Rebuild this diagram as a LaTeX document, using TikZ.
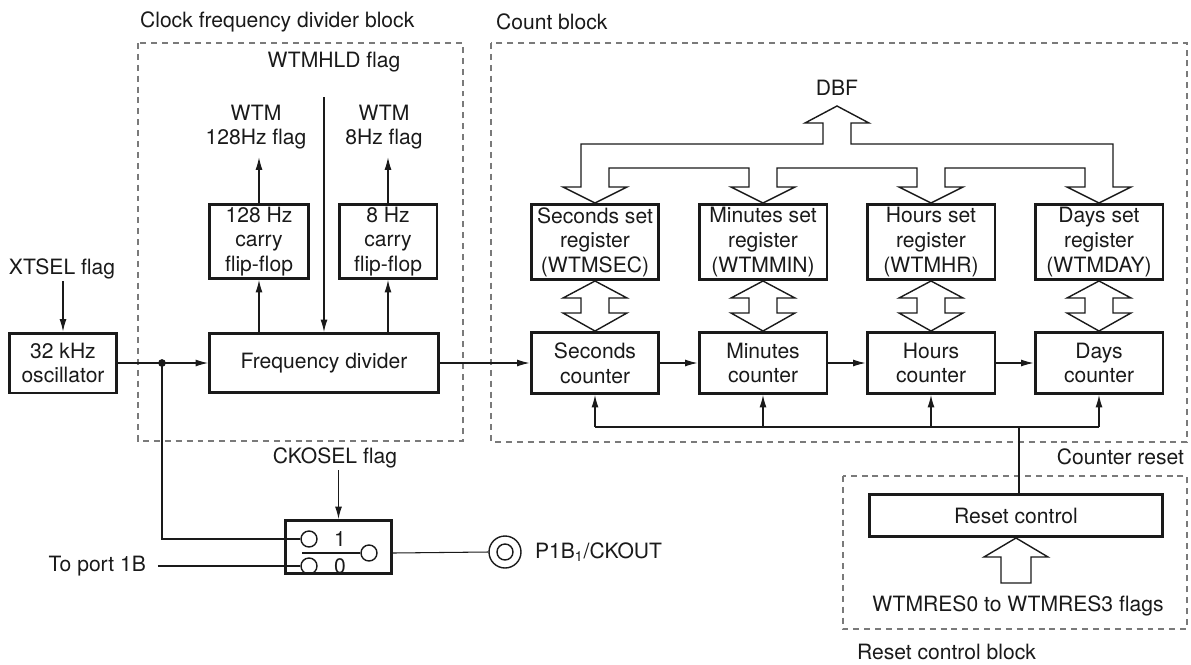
\documentclass[tikz,border=0pt]{standalone}
\usepackage{fontspec}
\setmainfont{TeX Gyre Heros}
\usepackage{tikz}
\usetikzlibrary{positioning,arrows.meta,calc}
\definecolor{ink}{HTML}{1A1A1A}
\definecolor{zonegray}{HTML}{7A7A7A}

\begin{document}
\begin{tikzpicture}[
  x=0.02cm, y=-0.02cm,
  font=\fontsize{12}{14}\selectfont,
  blk/.style={draw=ink, line width=1.7pt, align=center, inner sep=1pt, text=ink},
  reg/.style={blk, minimum width=2.56cm, minimum height=1.5cm},
  cnt/.style={blk, minimum width=2.56cm, minimum height=1.22cm},
  zone/.style={draw=zonegray, line width=0.6pt, dash pattern=on 3.4pt off 2.8pt},
  lbl/.style={text=ink, align=center, inner sep=1pt},
  sig/.style={-{Latex[length=2.5mm,width=1.4mm]}, line width=0.6pt, ink},
  wire/.style={line width=0.6pt, ink},
  bus/.style={draw=ink, line width=0.8pt, fill=white, line join=miter},
  term/.style={circle, draw=ink, line width=0.8pt, minimum size=0.32cm, inner sep=0pt},
  lever/.style={line width=1.4pt, ink}
]
\useasboundingbox (0,0) rectangle (1191,664);

% dashed blocks
\draw[zone] (138,43) rectangle (463,441);
\draw[zone] (491,43) rectangle (1187,442);
\draw[zone] (843,476) rectangle (1187,629);
\node[lbl, anchor=west] (zclk) at (138,22) {Clock frequency divider block};
\node[lbl, anchor=west] (zcnt) at (494,22) {Count block};
\node[lbl, anchor=east] (zres) at (1186,457) {Counter reset};
\node[lbl, anchor=west] (zrst) at (855,652) {Reset control block};

% clock side
\node[blk, minimum width=2.14cm, minimum height=1.2cm] (osc) at (63,363) {32 kHz\\oscillator};
\node[lbl] (xtsel) at (62,269) {XTSEL flag};
\node[blk, minimum width=4.58cm, minimum height=1.18cm] (fdiv) at (324,363) {Frequency divider};
\node[blk, minimum width=1.98cm, minimum height=1.48cm] (ff128) at (259,241.5) {128 Hz\\carry\\flip-flop};
\node[blk, minimum width=1.96cm, minimum height=1.48cm] (ff8) at (388,241.5) {8 Hz\\carry\\flip-flop};
\node[lbl] (f128) at (256,127) {WTM\\128Hz flag};
\node[lbl] (f8) at (384,127) {WTM\\8Hz flag};
\node[lbl] (hld) at (334,62) {WTMHLD flag};
\coordinate (hldin) at (324,97);
\coordinate (j1) at (162,363);

% count side
\node[reg] (regsec) at (595,242) {Seconds set\\register\\(WTMSEC)};
\node[reg] (regmin) at (763,242) {Minutes set\\register\\(WTMMIN)};
\node[reg] (reghr) at (931,242) {Hours set\\register\\(WTMHR)};
\node[reg] (regday) at (1099,242) {Days set\\register\\(WTMDAY)};
\node[cnt] (cntsec) at (595,363) {Seconds\\counter};
\node[cnt] (cntmin) at (763,363) {Minutes\\counter};
\node[cnt] (cnthr) at (931,363) {Hours\\counter};
\node[cnt] (cntday) at (1099,363) {Days\\counter};
\node[lbl] (dbf) at (837,88) {DBF};

% reset
\node[blk, minimum width=5.86cm, minimum height=0.84cm] (rst) at (1016,515.5) {Reset control};
\node[lbl] (wtmres) at (1018,606) {WTMRES0 to WTMRES3 flags};
\coordinate (rbus) at (1019,427);

% output selector
\node[blk, minimum width=2.12cm, minimum height=1.06cm] (sw) at (338.5,547) {};
\node[lbl] (ckosel) at (335,458) {CKOSEL flag};
\node[term] (t1) at (309,539) {};
\node[term] (t0) at (309,566) {};
\node[term] (tc) at (369,553) {};
\node[lbl] (n1) at (340,539) {1};
\node[lbl] (n0) at (340,566) {0};
\node[lbl, anchor=east] (port) at (148,566) {To port 1B};
\node[circle, draw=ink, line width=0.8pt, minimum size=0.64cm, inner sep=0pt] (pin) at (505,552) {};
\node[term] (pinin) at (pin) {};
\node[lbl, anchor=west] (ckout) at (533,552) {P1B\textsubscript{1}/CKOUT};

% signals
\draw[sig] (osc.north |- xtsel.south) -- (osc.north);
\draw[sig] (osc) -- (fdiv);
\fill[ink] (j1) circle (2.2pt);
\draw[wire] (j1) |- (t1.west);
\draw[sig] (hldin) -- (fdiv.north);
\draw[sig] (ff128.south |- fdiv.north) -- (ff128.south);
\draw[sig] (ff8.south |- fdiv.north) -- (ff8.south);
\draw[sig] (ff128.north) -- ([yshift=-0.12cm]ff128.north |- f128.south);
\draw[sig] (ff8.north) -- ([yshift=-0.12cm]ff8.north |- f8.south);
\draw[sig] (fdiv) -- (cntsec);
\draw[sig] (cntsec) -- (cntmin);
\draw[sig] (cntmin) -- (cnthr);
\draw[sig] (cnthr) -- (cntday);

\draw[wire] (rst.north -| rbus) -- (rbus);
\draw[wire] (rbus -| cntsec.south) -- (rbus -| cntday.south);
\foreach \n in {sec,min,hr,day}
  \draw[sig] (rbus -| cnt\n.south) -- (cnt\n.south);

\draw[sig] (sw.north |- ckosel.south) -- (sw.north);
\draw[wire] ([xshift=0.2cm]port.east) -- (t0.west);
\draw[lever] (tc.west) -- ++(-58,0);
\draw[wire] (tc -| sw.east) -- (pin.west);

% hollow buses
\draw[bus] (595,203) -- (563,187) -- (581,187) -- (581,144) -- (823,144) -- (823,123)
  -- (805,123) -- (837,106) -- (869,123) -- (851,123) -- (851,144) -- (1113,144)
  -- (1113,187) -- (1131,187) -- (1099,203) -- (1067,187) -- (1085,187) -- (1085,168)
  -- (945,168) -- (945,187) -- (963,187) -- (931,203) -- (899,187) -- (917,187)
  -- (917,168) -- (777,168) -- (777,187) -- (795,187) -- (763,203) -- (731,187)
  -- (749,187) -- (749,168) -- (609,168) -- (609,187) -- (627,187) -- cycle;
\foreach \n in {sec,min,hr,day}
  \draw[bus] (reg\n.south) -- ++(32,17) -- ++(-18,0) -- ++(0,15) -- ++(18,0)
    -- (cnt\n.north) -- ++(-32,-18) -- ++(18,0) -- ++(0,-15) -- ++(-18,0) -- cycle;
\draw[bus] (rst.south) -- ++(32,19) -- ++(-17,0) -- ++(0,26) -- ++(-30,0)
  -- ++(0,-26) -- ++(-17,0) -- cycle;
\end{tikzpicture}
\end{document}
